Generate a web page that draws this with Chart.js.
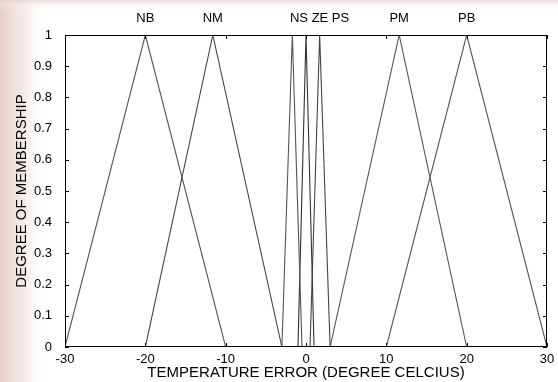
<!DOCTYPE html>
<html>
<head>
<meta charset="utf-8">
<script src="https://cdn.jsdelivr.net/npm/chart.js@4.4.1/dist/chart.umd.min.js"></script>
<style>
  html, body { margin: 0; padding: 0; background: #fff; }
  canvas { display: block; }
</style>
</head>
<body>
<canvas id="mfChart" width="558" height="382"></canvas>
<script>
// Funciones de pertenencia triangulares (x de cada vértice)
const mfNames = ['NB', 'NM', 'NS', 'ZE', 'PS', 'PM', 'PB'];
const nbX = [-30, -20, -10];
const nmX = [-20, -11.6, -3];
const nsX = [-3, -1.7, -0.5];
const zeX = [-1, 0, 1];
const psX = [0.5, 1.7, 3];
const pmX = [3, 11.6, 20];
const pbX = [10, 20, 30];
const membY = [0, 1, 0];
// posición horizontal de las etiquetas superiores
const labelX = [-20, -11.6, -0.87, 1.74, 4.3, 11.6, 20];
const xTicks = [-30, -20, -10, 0, 10, 20, 30];
const yTicks = [0, 0.1, 0.2, 0.3, 0.4, 0.5, 0.6, 0.7, 0.8, 0.9, 1];

const allX = [nbX, nmX, nsX, zeX, psX, pmX, pbX];
const lineColors = ['#555', '#444', '#555', '#333', '#444', '#555', '#555'];

const datasets = allX.map((xs, i) => ({
    label: mfNames[i],
    data: xs.map((x, j) => ({ x: x, y: membY[j] })),
    showLine: true,
    borderColor: lineColors[i],
    borderWidth: 1.1,
    pointRadius: 0,
    fill: false,
    tension: 0
}));

const FONT = 'Liberation Sans, Arial, Helvetica, sans-serif';

// Fondo, caja, marcas interiores y etiquetas NB..PB
const matlabLook = {
    id: 'matlabLook',
    beforeDraw(chart) {
        const ctx = chart.ctx;
        ctx.save();
        ctx.fillStyle = '#fff';
        ctx.fillRect(0, 0, chart.width, chart.height);
        let g = ctx.createLinearGradient(0, 0, 48, 0);
        g.addColorStop(0, 'rgba(226,200,194,0.9)');
        g.addColorStop(0.5, 'rgba(238,222,218,0.6)');
        g.addColorStop(1, 'rgba(255,255,255,0)');
        ctx.fillStyle = g;
        ctx.fillRect(0, 0, 48, chart.height);
        g = ctx.createLinearGradient(0, 0, 0, 10);
        g.addColorStop(0, 'rgba(232,214,208,0.8)');
        g.addColorStop(1, 'rgba(255,255,255,0)');
        ctx.fillStyle = g;
        ctx.fillRect(0, 0, chart.width, 10);
        ctx.restore();
    },
    afterDatasetsDraw(chart) {
        const { ctx, chartArea: a, scales } = chart;
        ctx.save();
        ctx.strokeStyle = '#000';
        ctx.lineWidth = 1;
        ctx.strokeRect(Math.round(a.left) + 0.5, Math.round(a.top) + 0.5,
            Math.round(a.right - a.left) - 1, Math.round(a.bottom - a.top) - 1);
        const t = 4;
        ctx.beginPath();
        xTicks.forEach(v => {
            const px = Math.round(scales.x.getPixelForValue(v)) + 0.5;
            ctx.moveTo(px, a.bottom); ctx.lineTo(px, a.bottom - t);
            ctx.moveTo(px, a.top); ctx.lineTo(px, a.top + t);
        });
        yTicks.forEach(v => {
            const py = Math.round(scales.y.getPixelForValue(v)) + 0.5;
            ctx.moveTo(a.left, py); ctx.lineTo(a.left + t, py);
            ctx.moveTo(a.right, py); ctx.lineTo(a.right - t, py);
        });
        ctx.stroke();

        ctx.fillStyle = '#000';
        ctx.font = '13px ' + FONT;
        ctx.textAlign = 'center';
        ctx.textBaseline = 'middle';
        mfNames.forEach((n, i) => {
            ctx.fillText(n, scales.x.getPixelForValue(labelX[i]), a.top - 17);
        });
        ctx.restore();
    }
};

new Chart(document.getElementById('mfChart'), {
    type: 'scatter',
    data: { datasets },
    options: {
        responsive: false,
        animation: false,
        layout: { padding: { top: 35, right: 11, left: 0, bottom: 0 } },
        plugins: { legend: { display: false }, tooltip: { enabled: false } },
        scales: {
            x: {
                type: 'linear',
                min: -30, max: 30,
                afterBuildTicks: s => { s.ticks = xTicks.map(v => ({ value: v })); },
                afterFit: s => { s.height = 35; },
                grid: { display: false },
                border: { display: false },
                ticks: { color: '#000', padding: -3, font: { family: FONT, size: 13 } },
                title: {
                    display: true,
                    text: 'TEMPERATURE ERROR (DEGREE CELCIUS)',
                    color: '#000',
                    font: { family: FONT, size: 15 },
                    padding: { top: 0, bottom: 0 }
                }
            },
            y: {
                type: 'linear',
                min: 0, max: 1,
                afterBuildTicks: s => { s.ticks = yTicks.map(v => ({ value: v })); },
                afterFit: s => { s.width = 65; },
                grid: { display: false },
                border: { display: false },
                ticks: {
                    color: '#000', padding: 5,
                    font: { family: FONT, size: 13 },
                    callback: v => String(Math.round(v * 10) / 10)
                },
                title: {
                    display: true,
                    text: 'DEGREE OF MEMBERSHIP',
                    color: '#000',
                    font: { family: FONT, size: 15 },
                    padding: { top: 13, bottom: 0 }
                }
            }
        }
    },
    plugins: [matlabLook]
});
</script>
</body>
</html>
